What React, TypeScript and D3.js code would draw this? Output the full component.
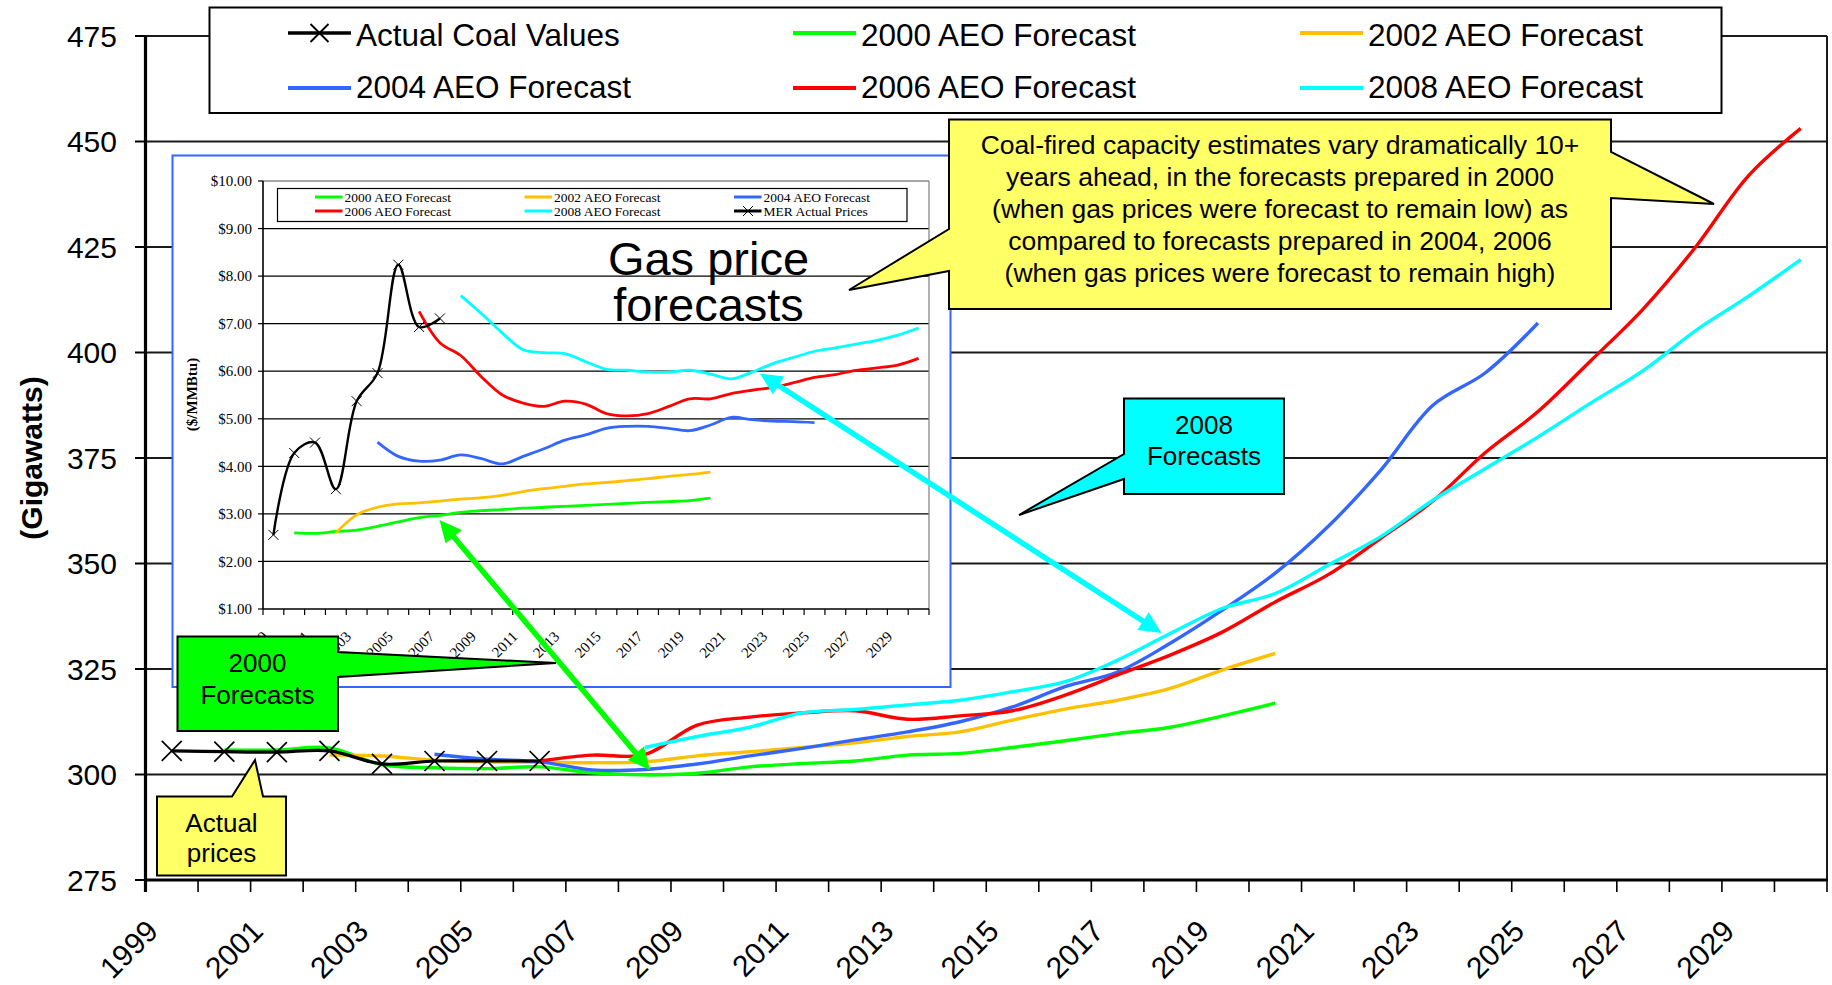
import React from 'react';
import * as d3 from 'd3';

// ---------- DATA ----------
const categories = [1999, 2000, 2001, 2002, 2003, 2004, 2005, 2006, 2007, 2008, 2009, 2010, 2011, 2012, 2013, 2014, 2015, 2016, 2017, 2018, 2019, 2020, 2021, 2022, 2023, 2024, 2025, 2026, 2027, 2028, 2029, 2030];
const axisLabelYears = [1999, 2001, 2003, 2005, 2007, 2009, 2011, 2013, 2015, 2017, 2019, 2021, 2023, 2025, 2027, 2029];
const gwTicks = [275, 300, 325, 350, 375, 400, 425, 450, 475];
const priceTicks = [1, 2, 3, 4, 5, 6, 7, 8, 9, 10];

// Main chart: coal-fired capacity (GW)
const coalActualStart = 1999;
const coalActual = [305.6, 305.4, 305.3, 305.6, 302.5, 303.2, 303.2, 303.2];
const coal2000Start = 2000;
const coal2000 = [305.8, 305.8, 306.3, 302.3, 301.6, 301.4, 301.8, 300.4, 299.9, 300.3, 301.8, 302.6, 303.2, 304.6, 305.0, 306.4, 308.0, 309.7, 311.2, 313.9, 316.9];
const coal2002Start = 2002;
const coal2002 = [304.6, 304.4, 303.4, 303.0, 302.9, 302.8, 303.0, 304.4, 305.4, 306.4, 307.5, 309.0, 310.1, 312.9, 315.5, 317.6, 320.4, 324.8, 328.7];
const coal2004Start = 2004;
const coal2004 = [304.8, 303.6, 303.0, 301.1, 301.2, 302.5, 304.4, 306.2, 308.2, 310.1, 312.5, 316.0, 320.8, 324.3, 331.1, 339.0, 347.7, 358.7, 372.0, 387.5, 395.2, 407.0];
const coal2006Start = 2006;
const coal2006 = [303.2, 304.6, 304.7, 311.7, 313.6, 314.6, 315.1, 313.1, 313.9, 315.1, 318.8, 323.6, 328.3, 333.8, 340.9, 347.3, 355.9, 364.8, 376.3, 386.0, 398.0, 410.3, 425.0, 441.8, 453.1];
const coal2008Start = 2008;
const coal2008 = [306.4, 309.0, 311.2, 314.6, 315.4, 316.5, 317.6, 319.6, 322.0, 327.1, 333.4, 339.4, 342.9, 349.6, 356.3, 365.0, 372.5, 380.0, 388.0, 395.7, 405.2, 413.3, 422.0];

// Inset: gas price ($/MMBtu)
const gasActualStart = 1999;
const gasActual = [2.56, 4.28, 4.50, 3.52, 5.37, 5.96, 8.24, 6.93, 7.11];
const gas2000Start = 2000;
const gas2000 = [2.60, 2.59, 2.63, 2.66, 2.74, 2.83, 2.92, 2.97, 3.03, 3.07, 3.09, 3.12, 3.14, 3.16, 3.18, 3.20, 3.22, 3.24, 3.26, 3.28, 3.33];
const gas2002Start = 2002;
const gas2002 = [2.60, 2.98, 3.14, 3.21, 3.23, 3.27, 3.31, 3.34, 3.39, 3.47, 3.53, 3.58, 3.63, 3.66, 3.70, 3.74, 3.79, 3.83, 3.88];
const gas2004Start = 2004;
const gas2004 = [4.51, 4.21, 4.11, 4.13, 4.24, 4.16, 4.05, 4.21, 4.37, 4.55, 4.66, 4.80, 4.84, 4.84, 4.80, 4.75, 4.87, 5.03, 4.98, 4.95, 4.94, 4.92];
const gas2006Start = 2006;
const gas2006 = [7.26, 6.60, 6.33, 5.88, 5.50, 5.33, 5.26, 5.37, 5.31, 5.11, 5.06, 5.11, 5.26, 5.42, 5.42, 5.53, 5.60, 5.66, 5.76, 5.87, 5.93, 6.02, 6.07, 6.13, 6.27];
const gas2008Start = 2008;
const gas2008 = [7.59, 7.21, 6.80, 6.45, 6.39, 6.37, 6.20, 6.04, 6.02, 5.98, 5.98, 6.02, 5.94, 5.84, 5.98, 6.16, 6.29, 6.42, 6.49, 6.57, 6.65, 6.76, 6.91];

const calloutMainLines = [
  'Coal-fired capacity estimates vary dramatically 10+',
  'years ahead, in the forecasts prepared in 2000',
  '(when gas prices were forecast to remain low) as',
  'compared to forecasts prepared in 2004, 2006',
  '(when gas prices were forecast to remain high)',
];

// ---------- STYLE ----------
const SANS = "'Liberation Sans', Arial, Helvetica, sans-serif";
const SERIF = "'Liberation Serif', 'Times New Roman', serif";
const C = { green: '#00FF00', orange: '#FFC000', blue: '#3366FF', red: '#FF0000', cyan: '#00FFFF', black: '#000000' };

const coalForecasts = [
  { name: '2000 AEO Forecast', color: C.green, start: coal2000Start, values: coal2000 },
  { name: '2002 AEO Forecast', color: C.orange, start: coal2002Start, values: coal2002 },
  { name: '2004 AEO Forecast', color: C.blue, start: coal2004Start, values: coal2004 },
  { name: '2006 AEO Forecast', color: C.red, start: coal2006Start, values: coal2006 },
  { name: '2008 AEO Forecast', color: C.cyan, start: coal2008Start, values: coal2008 },
];
const gasForecasts = [
  { name: '2000 AEO Forecast', color: C.green, start: gas2000Start, values: gas2000 },
  { name: '2002 AEO Forecast', color: C.orange, start: gas2002Start, values: gas2002 },
  { name: '2004 AEO Forecast', color: C.blue, start: gas2004Start, values: gas2004 },
  { name: '2006 AEO Forecast', color: C.red, start: gas2006Start, values: gas2006 },
  { name: '2008 AEO Forecast', color: C.cyan, start: gas2008Start, values: gas2008 },
];

const toPts = (start: number, vals: number[]) => vals.map((v, i) => [start + i, v] as [number, number]);

const xPath = (cx: number, cy: number, r: number) => `M${cx - r},${cy - r}L${cx + r},${cy + r}M${cx - r},${cy + r}L${cx + r},${cy - r}`;

type Wedge = { a: number; b: number; tx: number; ty: number };
function calloutPath(x0: number, y0: number, x1: number, y1: number, w: { top?: Wedge; right?: Wedge; left?: Wedge }) {
  const p: [number, number][] = [[x0, y0]];
  if (w.top) p.push([w.top.a, y0], [w.top.tx, w.top.ty], [w.top.b, y0]);
  p.push([x1, y0]);
  if (w.right) p.push([x1, w.right.a], [w.right.tx, w.right.ty], [x1, w.right.b]);
  p.push([x1, y1], [x0, y1]);
  if (w.left) p.push([x0, w.left.b], [w.left.tx, w.left.ty], [x0, w.left.a]);
  return 'M' + p.map((q) => q.join(',')).join('L') + 'Z';
}

function DoubleArrow({ x1, y1, x2, y2, color }: { x1: number; y1: number; x2: number; y2: number; color: string }) {
  const len = 22, hw = 10.5;
  const dx = x2 - x1, dy = y2 - y1, L = Math.hypot(dx, dy);
  const ux = dx / L, uy = dy / L, nx = -uy, ny = ux;
  const head = (tx: number, ty: number, dir: number) => {
    const bx = tx - dir * ux * len, by = ty - dir * uy * len;
    return `M${tx},${ty}L${bx + nx * hw},${by + ny * hw}L${bx - nx * hw},${by - ny * hw}Z`;
  };
  return (
    <g>
      <line x1={x1 + ux * len * 0.8} y1={y1 + uy * len * 0.8} x2={x2 - ux * len * 0.8} y2={y2 - uy * len * 0.8} stroke={color} strokeWidth={5.5} />
      <path d={head(x2, y2, 1)} fill={color} />
      <path d={head(x1, y1, -1)} fill={color} />
    </g>
  );
}

export default function App() {
  // Main scales
  const xM = d3.scaleBand<string>().domain(categories.map(String)).range([145.5, 1827]).padding(0);
  const yM = d3.scaleLinear().domain([275, 475]).range([880, 36]);
  const cxM = (yr: number) => (xM(String(yr)) as number) + xM.bandwidth() / 2;
  const lineM = d3.line<[number, number]>().x((d) => cxM(d[0])).y((d) => yM(d[1])).curve(d3.curveCatmullRom.alpha(0.5));

  // Inset scales
  const xI = d3.scaleBand<string>().domain(categories.map(String)).range([263, 929]).padding(0);
  const yI = d3.scaleLinear().domain([1, 10]).range([609, 181]);
  const cxI = (yr: number) => (xI(String(yr)) as number) + xI.bandwidth() / 2;
  const lineI = d3.line<[number, number]>().x((d) => cxI(d[0])).y((d) => yI(d[1])).curve(d3.curveCatmullRom.alpha(0.5));

  const mainBoundaries = categories.map((c) => xM(String(c)) as number).concat([xM.range()[1]]);
  const insetBoundaries = categories.map((c) => xI(String(c)) as number).concat([xI.range()[1]]);

  const coalActualPts = toPts(coalActualStart, coalActual);
  const gasActualPts = toPts(gasActualStart, gasActual);

  const mainLegend = [
    { name: 'Actual Coal Values', color: C.black, marker: true, x: 288, y: 33 },
    { name: '2000 AEO Forecast', color: C.green, marker: false, x: 793, y: 33 },
    { name: '2002 AEO Forecast', color: C.orange, marker: false, x: 1300, y: 33 },
    { name: '2004 AEO Forecast', color: C.blue, marker: false, x: 288, y: 88 },
    { name: '2006 AEO Forecast', color: C.red, marker: false, x: 793, y: 88 },
    { name: '2008 AEO Forecast', color: C.cyan, marker: false, x: 1300, y: 88 },
  ];
  const insetLegend = [
    { name: '2000 AEO Forecast', color: C.green, marker: false, x: 315, y: 197 },
    { name: '2002 AEO Forecast', color: C.orange, marker: false, x: 524.5, y: 197 },
    { name: '2004 AEO Forecast', color: C.blue, marker: false, x: 734, y: 197 },
    { name: '2006 AEO Forecast', color: C.red, marker: false, x: 315, y: 211 },
    { name: '2008 AEO Forecast', color: C.cyan, marker: false, x: 524.5, y: 211 },
    { name: 'MER Actual Prices', color: C.black, marker: true, x: 734, y: 211 },
  ];

  return (
    <svg width={1832} height={985} style={{ position: 'absolute', left: 0, top: 0, display: 'block', background: '#fff' }}>
      {/* ===== Main chart grid ===== */}
      {gwTicks.filter((t) => t > 275).map((t) => (
        <line key={'g' + t} x1={145.5} x2={1827} y1={yM(t)} y2={yM(t)} stroke="#1a1a1a" strokeWidth={2} />
      ))}
      <line x1={1827} x2={1827} y1={yM(475)} y2={yM(275)} stroke="#1a1a1a" strokeWidth={2} />
      {/* y axis */}
      <line x1={145.5} x2={145.5} y1={yM(475) - 1} y2={yM(275) + 12} stroke="#000" strokeWidth={3.2} />
      {gwTicks.map((t) => (
        <g key={'yt' + t}>
          <line x1={135} x2={145.5} y1={yM(t)} y2={yM(t)} stroke="#000" strokeWidth={2} />
          <text x={117} y={yM(t)} dy="0.36em" textAnchor="end" fontFamily={SANS} fontSize={30} fill="#000">{t}</text>
        </g>
      ))}
      {/* x axis */}
      <line x1={144} x2={1828} y1={yM(275)} y2={yM(275)} stroke="#000" strokeWidth={3.2} />
      {mainBoundaries.map((b, i) => (
        <line key={'xt' + i} x1={b} x2={b} y1={yM(275)} y2={yM(275) + 12} stroke="#000" strokeWidth={1.6} />
      ))}
      {axisLabelYears.map((yr) => (
        <text key={'xl' + yr} transform={`translate(${cxM(yr) - 12},${933}) rotate(-45)`} textAnchor="end" fontFamily={SANS} fontSize={30} fill="#000">{yr}</text>
      ))}
      <text transform="translate(31,458) rotate(-90)" textAnchor="middle" dy="0.36em" fontFamily={SANS} fontWeight="bold" fontSize={30} fill="#000">(Gigawatts)</text>

      {/* ===== Main series ===== */}
      {coalForecasts.map((s) => (
        <path key={s.name} d={lineM(toPts(s.start, s.values)) || ''} fill="none" stroke={s.color} strokeWidth={3.4} strokeLinejoin="round" />
      ))}
      <path d={lineM(coalActualPts) || ''} fill="none" stroke="#000" strokeWidth={3.2} />
      {coalActualPts.map((d, i) => (
        <path key={'cm' + i} d={xPath(cxM(d[0]), yM(d[1]), 10)} stroke="#000" strokeWidth={1.7} fill="none" />
      ))}

      {/* ===== Legend ===== */}
      <rect x={209.5} y={7.5} width={1512} height={105.5} fill="#fff" stroke="#000" strokeWidth={2} />
      {mainLegend.map((l) => (
        <g key={'ml' + l.name}>
          <line x1={l.x} x2={l.x + 63} y1={l.y} y2={l.y} stroke={l.color} strokeWidth={l.marker ? 3.5 : 4} />
          {l.marker && <path d={xPath(l.x + 31.5, l.y, 9)} stroke="#000" strokeWidth={1.8} fill="none" />}
          <text x={l.x + 68} y={l.y === 33 ? 46 : 98} fontFamily={SANS} fontSize={31.5} fill="#000">{l.name}</text>
        </g>
      ))}

      {/* ===== Inset: gas prices ===== */}
      <rect x={172.5} y={155.5} width={778} height={531.5} fill="#fff" stroke="#3366FF" strokeWidth={2} />
      {priceTicks.filter((t) => t > 1 && t < 10).map((t) => (
        <line key={'pg' + t} x1={263} x2={929} y1={yI(t)} y2={yI(t)} stroke="#000" strokeWidth={1.3} />
      ))}
      <line x1={263} x2={929} y1={yI(10)} y2={yI(10)} stroke="#888" strokeWidth={1.3} />
      <line x1={929} x2={929} y1={yI(10)} y2={yI(1)} stroke="#888" strokeWidth={1.3} />
      <line x1={263} x2={263} y1={yI(10)} y2={yI(1)} stroke="#000" strokeWidth={1.6} />
      <line x1={263} x2={929} y1={yI(1)} y2={yI(1)} stroke="#000" strokeWidth={1.6} />
      {priceTicks.map((t) => (
        <g key={'pt' + t}>
          <line x1={258} x2={263} y1={yI(t)} y2={yI(t)} stroke="#000" strokeWidth={1.2} />
          <text x={252} y={yI(t)} dy="0.35em" textAnchor="end" fontFamily={SERIF} fontSize={15} fill="#000">{'$' + t.toFixed(2)}</text>
        </g>
      ))}
      {insetBoundaries.map((b, i) => (
        <line key={'it' + i} x1={b} x2={b} y1={yI(1)} y2={yI(1) + 6} stroke="#000" strokeWidth={1.2} />
      ))}
      {axisLabelYears.map((yr) => (
        <text key={'il' + yr} transform={`translate(${cxI(yr) - 4.5},${637.5}) rotate(-45)`} textAnchor="end" fontFamily={SERIF} fontSize={15} fill="#000">{yr}</text>
      ))}
      <text transform="translate(192,394.5) rotate(-90)" textAnchor="middle" dy="0.35em" fontFamily={SERIF} fontWeight="bold" fontSize={15} fill="#000">($/MMBtu)</text>

      <rect x={277.5} y={188.5} width={629.5} height={33} fill="#fff" stroke="#000" strokeWidth={1.2} />
      {insetLegend.map((l) => (
        <g key={'il' + l.name}>
          <line x1={l.x} x2={l.x + 27.5} y1={l.y} y2={l.y} stroke={l.color} strokeWidth={3} />
          {l.marker && <path d={xPath(l.x + 14, l.y, 5)} stroke="#000" strokeWidth={1} fill="none" />}
          <text x={l.x + 29.5} y={l.y + 5} fontFamily={SERIF} fontSize={13.5} fill="#000">{l.name}</text>
        </g>
      ))}

      <text x={708.5} y={275} textAnchor="middle" fontFamily={SANS} fontSize={47} fill="#000">Gas price</text>
      <text x={708.5} y={320.5} textAnchor="middle" fontFamily={SANS} fontSize={47} fill="#000">forecasts</text>

      {gasForecasts.map((s) => (
        <path key={'gs' + s.name} d={lineI(toPts(s.start, s.values)) || ''} fill="none" stroke={s.color} strokeWidth={2.8} strokeLinejoin="round" />
      ))}
      <path d={lineI(gasActualPts) || ''} fill="none" stroke="#000" strokeWidth={2.4} />
      {gasActualPts.map((d, i) => (
        <path key={'gm' + i} d={xPath(cxI(d[0]), yI(d[1]), 5)} stroke="#000" strokeWidth={1} fill="none" />
      ))}

      {/* ===== Callouts ===== */}
      <path d={calloutPath(949, 119.5, 1611, 309, { right: { a: 152, b: 198, tx: 1714, ty: 204 }, left: { a: 229, b: 271, tx: 849, ty: 290 } })} fill="#FFFF66" stroke="#000" strokeWidth={2} />
      {calloutMainLines.map((t, i) => (
        <text key={'cl' + i} x={1280} y={154 + i * 32} textAnchor="middle" fontFamily={SANS} fontSize={26.5} fill="#000">{t}</text>
      ))}

      <path d={calloutPath(1124, 398.5, 1284, 494, { left: { a: 454, b: 479, tx: 1019, ty: 515 } })} fill="#00FFFF" stroke="#000" strokeWidth={2} />
      <text x={1204} y={434} textAnchor="middle" fontFamily={SANS} fontSize={26} fill="#000">2008</text>
      <text x={1204} y={465} textAnchor="middle" fontFamily={SANS} fontSize={26} fill="#000">Forecasts</text>

      <path d={calloutPath(177.5, 636.5, 338, 731, { right: { a: 652, b: 677, tx: 556, ty: 663 } })} fill="#00FF00" stroke="#000" strokeWidth={2} />
      <text x={257.5} y={672} textAnchor="middle" fontFamily={SANS} fontSize={26} fill="#000">2000</text>
      <text x={257.5} y={704} textAnchor="middle" fontFamily={SANS} fontSize={26} fill="#000">Forecasts</text>

      <path d={calloutPath(157, 796.5, 286, 875.5, { top: { a: 232, b: 263, tx: 255, ty: 760 } })} fill="#FFFF66" stroke="#000" strokeWidth={2} />
      <text x={221.5} y={832} textAnchor="middle" fontFamily={SANS} fontSize={26} fill="#000">Actual</text>
      <text x={221.5} y={862} textAnchor="middle" fontFamily={SANS} fontSize={26} fill="#000">prices</text>

      {/* ===== Arrows ===== */}
      <DoubleArrow x1={439.5} y1={520} x2={650} y2={770} color="#00FF00" />
      <DoubleArrow x1={760} y1={373.5} x2={1161.5} y2={633} color="#00FFFF" />
    </svg>
  );
}
